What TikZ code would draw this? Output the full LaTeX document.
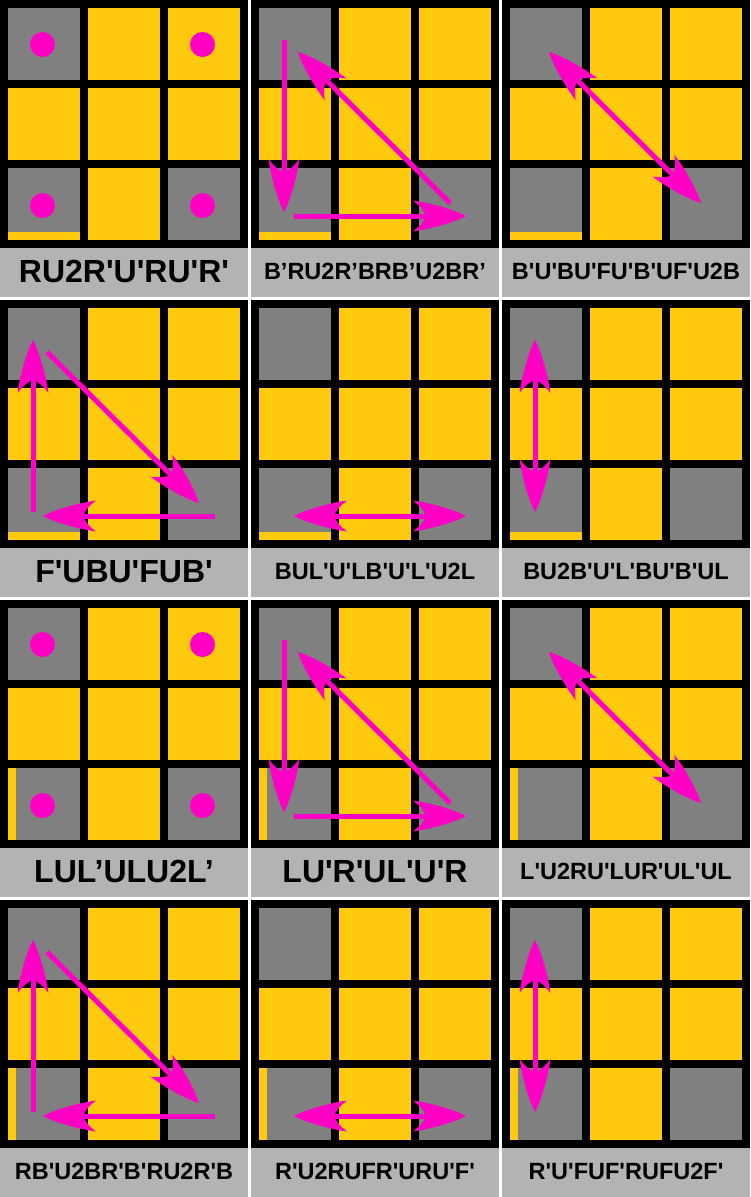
\documentclass[tikz,border=0pt]{standalone}
\usepackage{fontspec}
\newfontfamily\movefont{Liberation Sans}
\usepackage{tikz}
\usetikzlibrary{arrows.meta,positioning}
\definecolor{facelit}{HTML}{FFC90E}
\definecolor{faceoff}{HTML}{808080}
\definecolor{algband}{HTML}{B3B3B3}
\definecolor{swapmark}{HTML}{FF00C4}

% flared head with curved barbs
\pgfdeclarearrow{
  name = Flare,
  setup code = {
    \pgfarrowssettipend{0pt}
    \pgfarrowssetlineend{-36pt}
    \pgfarrowssetbackend{-53pt}
    \pgfarrowshullpoint{0pt}{0pt}
    \pgfarrowsupperhullpoint{-53pt}{15.5pt}
  },
  drawing code = {
    \pgfpathmoveto{\pgfqpoint{0pt}{0pt}}
    \pgfpathcurveto{\pgfqpoint{-9pt}{5pt}}{\pgfqpoint{-30pt}{12pt}}{\pgfqpoint{-53pt}{15.5pt}}
    \pgfpathcurveto{\pgfqpoint{-47pt}{11pt}}{\pgfqpoint{-42pt}{6pt}}{\pgfqpoint{-40pt}{0pt}}
    \pgfpathcurveto{\pgfqpoint{-42pt}{-6pt}}{\pgfqpoint{-47pt}{-11pt}}{\pgfqpoint{-53pt}{-15.5pt}}
    \pgfpathcurveto{\pgfqpoint{-30pt}{-12pt}}{\pgfqpoint{-9pt}{-5pt}}{\pgfqpoint{0pt}{0pt}}
    \pgfpathclose
    \pgfusepathqfill
  }
}

\begin{document}
\begin{tikzpicture}[x=1pt,y=-1pt,
  sticker/.style={fill=facelit},
  darkcell/.style={fill=faceoff},
  band/.style={fill=algband},
  headtip/.tip={Flare},
  turnarrow/.style={swapmark,line width=5pt,-headtip},
  swaparrow/.style={swapmark,line width=5pt,headtip-headtip},
  cornerdot/.style={circle,fill=swapmark,minimum size=25pt,inner sep=0pt},
  alg/.style={font=\movefont\bfseries\fontsize{23.5}{28}\selectfont,inner sep=0pt},
  bigalg/.style={font=\movefont\bfseries\fontsize{32}{38}\selectfont,inner sep=0pt}]
  \fill[white] (0,0) rectangle (750,1197);
  \useasboundingbox (0,0) rectangle (750,1197);

  % twelve faces, 3 across, 4 down
  \foreach \row in {0,...,3}
    \foreach \col in {0,...,2} {
      \begin{scope}[shift={(251*\col,300*\row)},name prefix=p\row\col-]
        \fill (0,0) rectangle (248,248);
        \foreach \r in {0,1,2}
          \foreach \c in {0,1,2}
            \fill[sticker] ({8+80*\c},{8+80*\r}) rectangle +(72,72);
        \fill[darkcell] (8,8) rectangle +(72,72);
        \fill[darkcell] (8,168) rectangle +(72,72);
        \fill[darkcell] (168,168) rectangle +(72,72);
        \ifnum\row<2
          \fill[sticker] (8,232) rectangle (80,240);
        \else
          \fill[sticker] (8,168) rectangle (16,240);
        \fi
        \fill[band] (0,248) rectangle (248,297);
        \coordinate (vt) at (33,40);
        \coordinate (vb) at (33,212);
        \coordinate (hl) at (43,216);
        \coordinate (hr) at (215,216);
        \coordinate (dt) at (47,52);
        \coordinate (db) at (199,203);
      \end{scope}
    }

  % corner dots
  \foreach \row in {0,2} {
    \node[cornerdot] (p\row0-tl) at (42.5,{300*\row+44.5}) {};
    \node[cornerdot] (p\row0-tr) at (202.5,{300*\row+44.5}) {};
    \node[cornerdot] (p\row0-bl) at (42.5,{300*\row+205.5}) {};
    \node[cornerdot] (p\row0-br) at (202.5,{300*\row+205.5}) {};
  }

  % three-cycles
  \foreach \row in {0,2} {
    \draw[turnarrow] (p\row1-vt) -- (p\row1-vb);
    \draw[turnarrow] (p\row1-hl) -- (p\row1-hr);
    \draw[turnarrow] (p\row1-db) -- (p\row1-dt);
  }
  \foreach \row in {1,3} {
    \draw[turnarrow] (p\row0-vb) -- (p\row0-vt);
    \draw[turnarrow] (p\row0-dt) -- (p\row0-db);
    \draw[turnarrow] (p\row0-hr) -- (p\row0-hl);
  }

  % swaps
  \foreach \row in {0,2}
    \draw[swaparrow] (p\row2-dt) -- (p\row2-db);
  \foreach \row in {1,3} {
    \draw[swaparrow] (p\row1-hl) -- (p\row1-hr);
    \draw[swaparrow] (p\row2-vt) -- (p\row2-vb);
  }

  % algorithms
  \node[bigalg] (alg00) at (124,271.5) {RU2R'U'RU'R'};
  \node[alg] (alg01) at (375,271.5) {B’RU2R’BRB’U2BR’};
  \node[alg] (alg02) at (626,271.5) {B'U'BU'FU'B'UF'U2B};
  \node[bigalg] (alg10) at (124,571.5) {F'UBU'FUB'};
  \node[alg] (alg11) at (375,571.5) {BUL'U'LB'U'L'U2L};
  \node[alg] (alg12) at (626,571.5) {BU2B'U'L'BU'B'UL};
  \node[bigalg] (alg20) at (124,871.5) {LUL’ULU2L’};
  \node[bigalg] (alg21) at (375,871.5) {LU'R'UL'U'R};
  \node[alg] (alg22) at (626,871.5) {L'U2RU'LUR'UL'UL};
  \node[alg] (alg30) at (124,1171.5) {RB'U2BR'B'RU2R'B};
  \node[alg] (alg31) at (375,1171.5) {R'U2RUFR'URU'F'};
  \node[alg] (alg32) at (626,1171.5) {R'U'FUF'RUFU2F'};
\end{tikzpicture}
\end{document}
